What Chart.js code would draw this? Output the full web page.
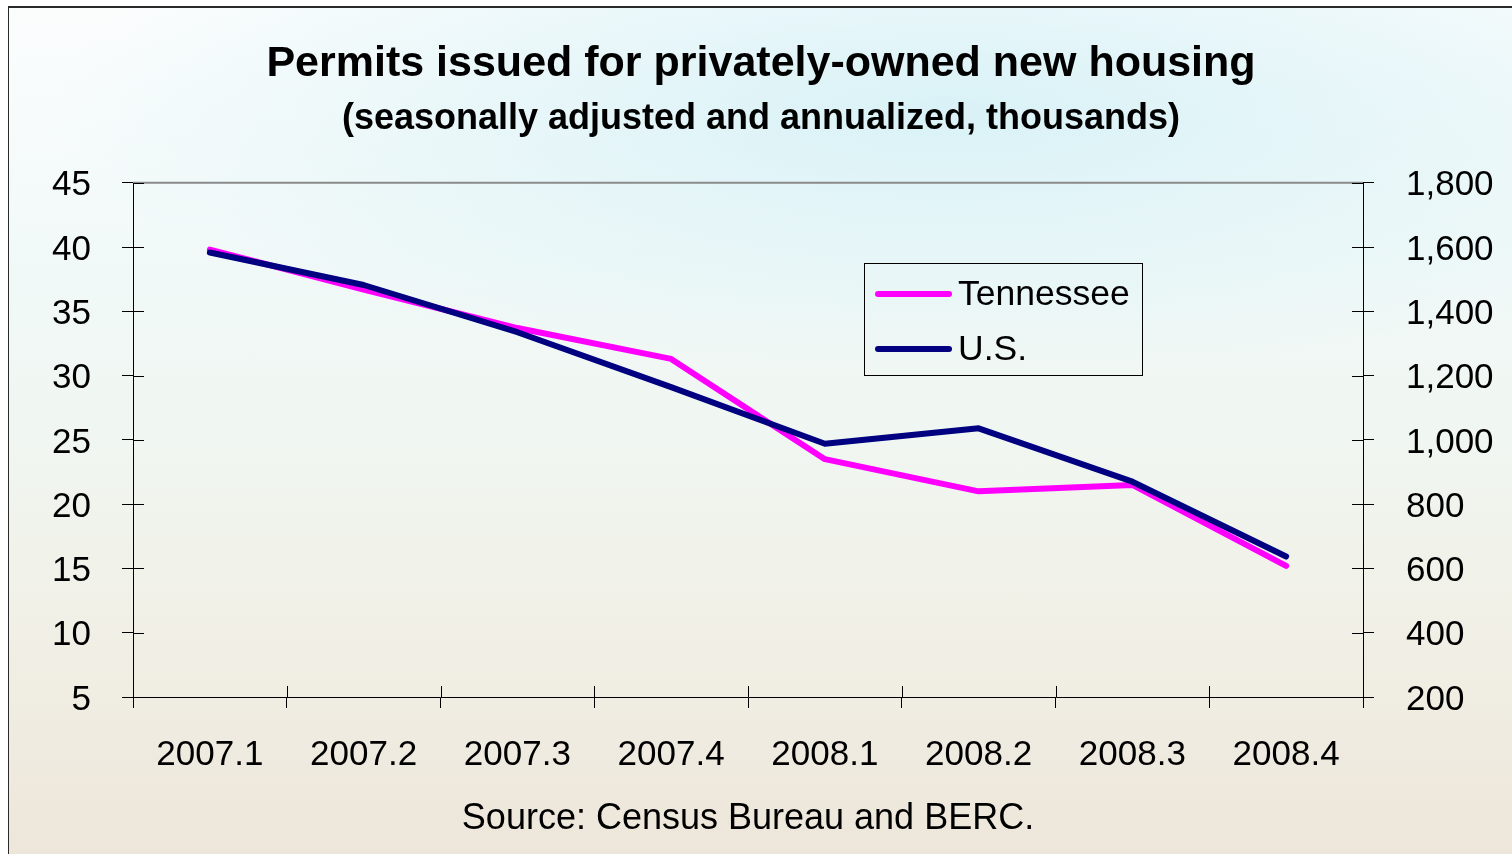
<!DOCTYPE html>
<html>
<head>
<meta charset="utf-8">
<script src="https://cdn.jsdelivr.net/npm/chart.js@4"></script>
<style>
  body { margin: 0; width: 1512px; height: 854px; overflow: hidden; background: #fff; font-family: "Liberation Sans", Arial, sans-serif; }
  #frame {
    position: absolute; left: 8px; top: 6px; width: 1520px; height: 860px;
    border-top: 2px solid #2a2a2a; border-left: 1.5px solid #2a2a2a;
    background:
      radial-gradient(ellipse 900px 260px at 62% 12%, rgba(212, 240, 246, 0.85), rgba(212, 240, 246, 0) 100%),
      linear-gradient(to bottom, #fbfdfd 0%, #f1f9f8 30%, #f0f6f1 50%, #f1f0e6 72%, #ede5d9 100%);
  }
  #chart { position: absolute; left: 0; top: 0; }
  #legend {
    position: absolute; left: 864px; top: 263px; width: 277px; height: 109px;
    border: 1px solid #000; padding-top: 2px; box-sizing: content-box;
  }
  .row { display: flex; align-items: center; height: 55px; }
  .swatch { width: 77px; height: 6px; border-radius: 3px; margin-left: 10px; margin-right: 6px; }
  .label { font-size: 35.5px; line-height: 1; color: #000; }
</style>
</head>
<body>
<div id="frame"></div>
<canvas id="chart" width="1512" height="854"></canvas>
<div id="legend"></div>
<script>
const quarters = ['2007.1', '2007.2', '2007.3', '2007.4', '2008.1', '2008.2', '2008.3', '2008.4'];
const tennessee = [39.8, 36.7, 33.7, 31.3, 23.5, 21.0, 21.5, 15.2];
const usTotal = [1583, 1482, 1335, 1164, 988, 1036, 870, 637];
const leftTicks = [5, 10, 15, 20, 25, 30, 35, 40, 45];
const rightTicks = [200, 400, 600, 800, 1000, 1200, 1400, 1600, 1800];

const tickFont = { family: 'Liberation Sans', size: 35 };

// tick marks that cross the axis lines + grey top edge
const innerTicks = {
  id: 'innerTicks',
  afterDraw(chart) {
    const { ctx, chartArea: a, scales } = chart;
    ctx.save();
    ctx.strokeStyle = '#8a8a8a';
    ctx.lineWidth = 2;
    ctx.beginPath();
    ctx.moveTo(a.left, a.top);
    ctx.lineTo(a.right, a.top);
    ctx.stroke();
    ctx.strokeStyle = '#000';
    ctx.lineWidth = 1;
    ctx.beginPath();
    scales.y.ticks.forEach((t, i) => {
      const y = Math.round(scales.y.getPixelForTick(i)) + 0.5;
      ctx.moveTo(a.left, y); ctx.lineTo(a.left + 11, y);
    });
    scales.y1.ticks.forEach((t, i) => {
      const y = Math.round(scales.y1.getPixelForTick(i)) + 0.5;
      ctx.moveTo(a.right, y); ctx.lineTo(a.right - 11, y);
    });
    for (let i = 0; i <= quarters.length; i++) {
      const x = Math.round(scales.x.getPixelForValue(i - 0.5)) + 0.5;
      ctx.moveTo(x, a.bottom); ctx.lineTo(x, a.bottom - 11);
    }
    ctx.stroke();
    ctx.restore();
  }
};

const chart = new Chart(document.getElementById('chart'), {
  type: 'line',
  data: {
    labels: quarters,
    datasets: [{
      label: 'Tennessee',
      data: tennessee,
      yAxisID: 'y',
      borderColor: '#ff00ff',
      backgroundColor: '#ff00ff',
      borderWidth: 6,
      order: 1
    }, {
      label: 'U.S.',
      data: usTotal,
      yAxisID: 'y1',
      borderColor: '#000080',
      backgroundColor: '#000080',
      borderWidth: 6,
      order: 0
    }]
  },
  options: {
    responsive: false,
    animation: false,
    layout: { padding: { left: 10, right: 0, top: 0, bottom: 0 } },
    elements: {
      point: { radius: 0, hoverRadius: 0 },
      line: { tension: 0, borderCapStyle: 'round', borderJoinStyle: 'round' }
    },
    plugins: {
      legend: { display: false },
      tooltip: { enabled: false },
      title: {
        display: true,
        text: 'Permits issued for privately-owned new housing',
        color: '#000',
        font: { family: 'Liberation Sans', size: 43, weight: 'bold' },
        padding: { top: 38, bottom: 8 }
      },
      subtitle: {
        display: true,
        text: '(seasonally adjusted and annualized, thousands)',
        color: '#000',
        font: { family: 'Liberation Sans', size: 36, weight: 'bold' },
        padding: { top: 0, bottom: 42 }
      }
    },
    scales: {
      x: {
        offset: true,
        grid: { offset: true, drawOnChartArea: false, color: '#000', tickLength: 11 },
        border: { color: '#000', width: 1 },
        ticks: { color: '#000', font: tickFont, padding: 26, maxRotation: 0 },
        title: {
          display: true,
          text: 'Source: Census Bureau and BERC.',
          color: '#000',
          font: { family: 'Liberation Sans', size: 36 },
          padding: { top: 0, bottom: 13 }
        },
        afterFit: s => { s.height = 157; }
      },
      y: {
        position: 'left',
        min: 5,
        max: 45,
        afterBuildTicks: s => { s.ticks = leftTicks.map(v => ({ value: v })); },
        grid: { drawOnChartArea: false, color: '#000', tickLength: 11 },
        border: { color: '#000', width: 1 },
        ticks: { color: '#000', font: tickFont, padding: 31, labelOffset: 3 },
        afterFit: s => { s.width = 123; }
      },
      y1: {
        position: 'right',
        min: 200,
        max: 1800,
        afterBuildTicks: s => { s.ticks = rightTicks.map(v => ({ value: v })); },
        grid: { drawOnChartArea: false, color: '#000', tickLength: 11 },
        border: { color: '#000', width: 1 },
        ticks: { color: '#000', font: tickFont, padding: 32, labelOffset: 3, callback: v => v.toLocaleString('en-US') },
        afterFit: s => { s.width = 149; }
      }
    }
  },
  plugins: [innerTicks]
});

// legend built from the datasets
const legend = document.getElementById('legend');
chart.data.datasets.forEach(ds => {
  const row = document.createElement('div');
  row.className = 'row';
  const sw = document.createElement('span');
  sw.className = 'swatch';
  sw.style.background = ds.borderColor;
  const lb = document.createElement('span');
  lb.className = 'label';
  lb.textContent = ds.label;
  row.appendChild(sw);
  row.appendChild(lb);
  legend.appendChild(row);
});
</script>
</body>
</html>
